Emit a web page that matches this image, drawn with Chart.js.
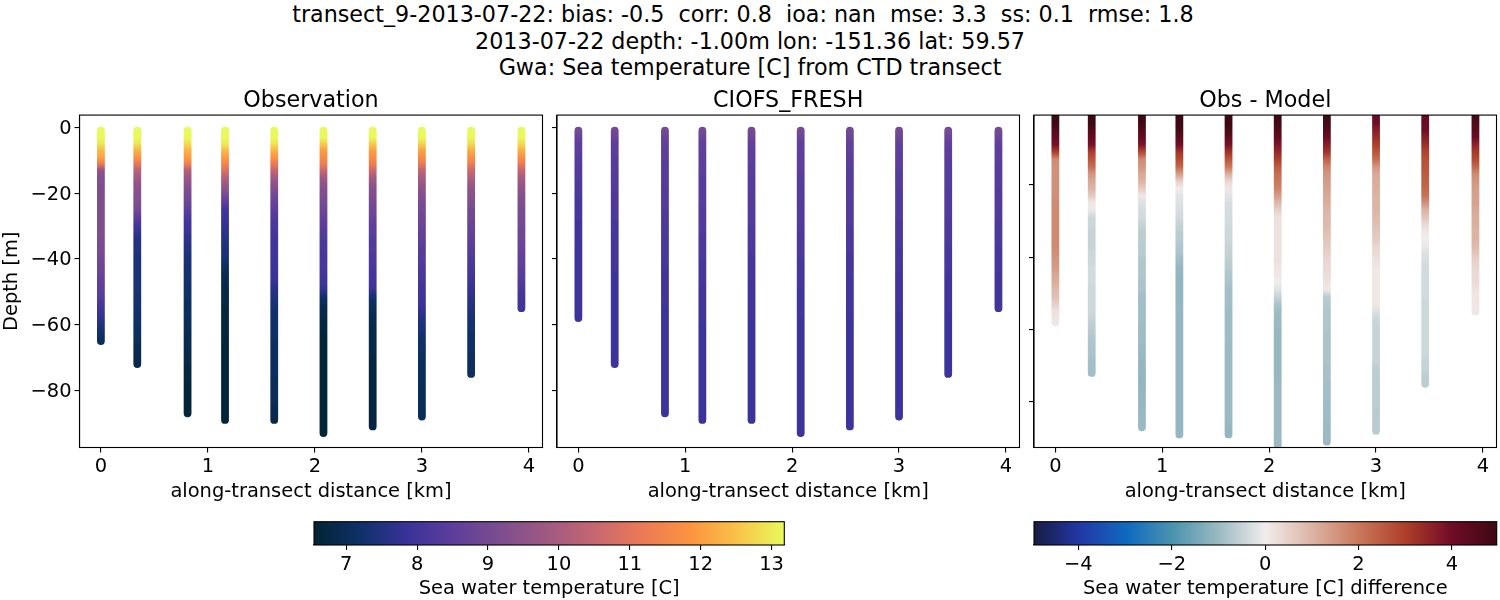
<!DOCTYPE html>
<html lang="en">
<head>
  <meta charset="UTF-8" />
  <title>transect_9-2013-07-22</title>
  <script src="https://cdn.jsdelivr.net/npm/chart.js"></script>
  <style>
    body { margin: 0; background: #fff; font-family: 'DejaVu Sans', sans-serif; color: #000; }
    #page { position: relative; width: 1500px; height: 600px; overflow: hidden; }
    canvas { position: absolute; }
    .sup { position: absolute; left: 0; width: 1500px; text-align: center; font-size: 22.24px; line-height: 26px; white-space: pre; }
  </style>
</head>
<body>
  <div id="page">
    <div class="sup" style="top:1px">transect_9-2013-07-22: bias: -0.5  corr: 0.8  ioa: nan  mse: 3.3  ss: 0.1  rmse: 1.8  </div>
    <div class="sup" style="top:28px">2013-07-22 depth: -1.00m lon: -151.36 lat: 59.57</div>
    <div class="sup" style="top:54px">Gwa: Sea temperature [C] from CTD transect</div>
    <canvas id="obs" width="546" height="427" style="left:0;top:80px"></canvas>
    <canvas id="model" width="478" height="427" style="left:545px;top:80px"></canvas>
    <canvas id="diff" width="478" height="427" style="left:1022px;top:80px"></canvas>
    <canvas id="barTemp" width="520" height="92" style="left:290px;top:510px"></canvas>
    <canvas id="barDiff" width="500" height="92" style="left:1000px;top:510px"></canvas>
  </div>

  <script>
    // along-transect position of each CTD cast [km]
    const stationKm = [0, 0.34, 0.81, 1.16, 1.62, 2.08, 2.54, 3.0, 3.46, 3.93];
    const obsBottom = [65, 72, 87, 89, 89, 93, 91, 88, 75, 55];
    const modelBottom = [58, 72, 87, 89, 89, 93, 91, 88, 75, 55];

    // values read every 2 m from -1 m down, last one sits at the cast bottom
    const obsProfiles = [
      [13.2,13.2,12.9,12.4,12.1, 11.3,9.6,9.3,9.2,9.2, 9.2,9.2,9.2,9.2,9.2, 9.2,9.2,9.1,9.1,9.0, 8.9,8.8,8.7,8.6,8.5, 8.4,8.2,8.0,7.8,7.6, 7.4,7.2,7.0],
      [13.2,13.2,12.9,12.3,11.9, 11.1,10.3,9.9,9.6,9.4, 9.3,9.2,9.0,8.6,8.1, 7.9,7.6,7.5,7.5,7.4, 7.4,7.4,7.4,7.4,7.4, 7.3,7.3,7.3,7.2,7.2, 7.1,7.1,7.0,6.9,6.9,6.8],
      [13.2,13.2,12.8,12.3,12.0, 11.4,10.2,9.8,9.5,9.2, 9.0,8.8,8.5,8.2,8.0, 7.9,7.7,7.6,7.5,7.4, 7.4,7.3,7.3,7.3,7.2, 7.2,7.1,7.1,7.1,7.0, 7.0,6.9,6.9,6.9,6.8, 6.8,6.7,6.7,6.7,6.6, 6.6,6.6,6.6,6.6],
      [13.2,13.2,13.0,12.4,12.0, 11.5,10.9,10.3,9.8,9.4, 8.9,8.5,8.0,7.9,7.8, 7.7,7.6,7.5,7.4,7.4, 7.2,7.0,6.9,6.9,6.8, 6.8,6.8,6.7,6.7,6.7, 6.7,6.7,6.7,6.6,6.6, 6.6,6.6,6.6,6.6,6.6, 6.6,6.6,6.6,6.6,6.6],
      [13.2,13.2,12.9,12.3,11.9, 11.2,10.5,9.9,9.5,9.2, 8.9,8.7,8.5,8.3,8.2, 8.1,8.0,8.0,8.0,8.0, 8.0,7.9,7.9,7.8,7.6, 7.5,7.4,7.3,7.2,7.2, 7.2,7.2,7.1,7.1,7.1, 7.1,7.1,7.1,7.0,7.0, 7.0,7.0,6.9,6.9,6.8],
      [13.2,13.2,12.6,12.0,11.7, 11.3,10.6,9.9,9.6,9.3, 9.2,9.0,8.9,8.7,8.5, 8.4,8.3,8.2,8.2,8.1, 8.1,8.1,8.0,8.0,7.8, 7.3,7.0,6.9,6.8,6.7, 6.7,6.6,6.6,6.6,6.6, 6.6,6.6,6.6,6.6,6.6,6.6,6.6,6.6,6.6,6.6,6.6,6.6],
      [13.2,13.2,12.6,12.0,11.7, 11.3,10.6,10.0,9.6,9.3, 9.2,9.0,8.9,8.8,8.6, 8.5,8.4,8.3,8.3,8.2, 8.2,8.1,8.1,8.0,7.9, 7.4,7.1,7.0,6.9,6.9, 6.8,6.8,6.8,6.8,6.8, 6.7,6.7,6.7,6.7,6.7,6.7,6.7,6.7,6.7,6.7,6.7],
      [13.2,13.2,12.7,12.1,11.7, 11.2,10.4,10.0,9.7,9.4, 9.3,9.1,9.0,8.9,8.8, 8.7,8.6,8.5,8.4,8.4, 8.3,8.2,8.2,8.1,8.0, 8.0,7.9,7.8,7.6,7.5, 7.4,7.3,7.2,7.2,7.1, 7.1,7.1,7.1,7.1,7.0,7.0,7.0,7.0,7.0],
      [13.2,13.2,12.8,12.2,11.8, 11.3,10.6,10.2,9.8,9.5, 9.4,9.2,9.0,8.9,8.8, 8.7,8.6,8.5,8.4,8.3, 8.2,8.1,8.0,7.9,7.8, 7.7,7.6,7.5,7.4,7.3, 7.3,7.2,7.2,7.2,7.1, 7.1,7.1,7.1],
      [13.2,13.2,12.8,12.2,11.8, 11.2,10.5,10.0,9.7,9.5, 9.3,9.2,9.1,9.0,9.0, 8.9,8.9,8.8,8.7,8.6, 8.6,8.5,8.4,8.3,8.2, 8.1,8.0,8.0]
    ];
    const modelProfiles = [
      [9.0,8.7,8.5,8.5,8.4, 8.4,8.3,8.3,8.2,8.2, 8.2,8.1,8.1,8.1,8.0, 8.0,8.0,8.0,7.9,7.9, 7.9,7.9,7.9,7.9,7.9, 7.9,7.9,7.9,7.9],
      [9.0,8.7,8.5,8.5,8.4, 8.4,8.4,8.3,8.3,8.3, 8.2,8.2,8.2,8.2,8.1, 8.1,8.1,8.0,8.0,8.0, 8.0,8.0,7.9,7.9,7.9, 7.9,7.9,7.9,7.9,7.9, 7.9,7.9,7.9,7.9,7.9,7.9],
      [9.0,8.7,8.6,8.5,8.5, 8.4,8.4,8.4,8.4,8.3, 8.3,8.3,8.3,8.2,8.2, 8.2,8.2,8.1,8.1,8.1, 8.1,8.0,8.0,8.0,8.0, 8.0,8.0,7.9,7.9,7.9, 7.9,7.9,7.9,7.9,7.9, 7.9,7.9,7.9,7.9,7.9, 7.9,7.9,7.9,7.9],
      [9.0,8.8,8.6,8.6,8.5, 8.5,8.5,8.4,8.4,8.4, 8.4,8.4,8.3,8.3,8.3, 8.3,8.2,8.2,8.2,8.2, 8.1,8.1,8.1,8.1,8.0, 8.0,8.0,8.0,8.0,8.0, 7.9,7.9,7.9,7.9,7.9, 7.9,7.9,7.9,7.9,7.9, 7.9,7.9,7.9,7.9,7.9],
      [9.0,8.8,8.6,8.5,8.5, 8.5,8.4,8.4,8.4,8.4, 8.3,8.3,8.3,8.3,8.3, 8.2,8.2,8.2,8.2,8.1, 8.1,8.1,8.1,8.0,8.0, 8.0,8.0,8.0,8.0,7.9, 7.9,7.9,7.9,7.9,7.9, 7.9,7.9,7.9,7.9,7.9, 7.9,7.9,7.9,7.9,7.9],
      [9.0,8.8,8.6,8.6,8.5, 8.5,8.5,8.4,8.4,8.4, 8.4,8.3,8.3,8.3,8.3, 8.3,8.2,8.2,8.2,8.2, 8.1,8.1,8.1,8.1,8.0, 8.0,8.0,8.0,8.0,7.9, 7.9,7.9,7.9,7.9,7.9, 7.9,7.9,7.9,7.9,7.9, 7.9,7.9,7.9,7.9,7.9,7.9,7.9],
      [9.0,8.8,8.6,8.6,8.5, 8.5,8.4,8.4,8.4,8.4, 8.4,8.3,8.3,8.3,8.3, 8.2,8.2,8.2,8.2,8.1, 8.1,8.1,8.1,8.0,8.0, 8.0,8.0,8.0,8.0,7.9, 7.9,7.9,7.9,7.9,7.9, 7.9,7.9,7.9,7.9,7.9, 7.9,7.9,7.9,7.9,7.9,7.9],
      [9.0,8.8,8.6,8.5,8.5, 8.5,8.4,8.4,8.4,8.3, 8.3,8.3,8.3,8.3,8.2, 8.2,8.2,8.2,8.1,8.1, 8.1,8.1,8.0,8.0,8.0, 8.0,8.0,8.0,7.9,7.9, 7.9,7.9,7.9,7.9,7.9, 7.9,7.9,7.9,7.9,7.9, 7.9,7.9,7.9,7.9],
      [9.0,8.8,8.6,8.5,8.5, 8.4,8.4,8.4,8.4,8.3, 8.3,8.3,8.3,8.3,8.2, 8.2,8.2,8.2,8.1,8.1, 8.1,8.1,8.0,8.0,8.0, 8.0,8.0,8.0,7.9,7.9, 7.9,7.9,7.9,7.9,7.9, 7.9,7.9,7.9],
      [9.0,8.8,8.6,8.5,8.5, 8.4,8.4,8.4,8.4,8.3, 8.3,8.3,8.3,8.3,8.2, 8.2,8.2,8.2,8.1,8.1, 8.1,8.1,8.0,8.0,8.0, 8.0,8.0,8.0]
    ];
    const diffProfiles = [
      [5.0,4.9,4.5,4.2,3.9, 3.0,1.7,1.6,1.6,1.6, 1.6,1.6,1.7,1.7,1.7, 1.7,1.7,1.7,1.7,1.6, 1.5,1.4,1.2,1.1,0.9, 0.8,0.5,0.2,0.1],
      [5.0,4.9,4.5,4.2,3.9, 3.0,2.6,2.2,1.5,1.2, 1.0,0.6,0.1,-0.08,-0.42, -0.42,-0.5,-0.5,-0.5,-0.42, -0.42,-0.36,-0.36,-0.36,-0.42, -0.42,-0.42,-0.42,-0.5,-0.6, -0.65,-0.75,-0.8,-0.8,-0.9,-0.9],
      [5.0,4.9,4.5,4.2,3.8, 2.8,1.7,1.5,1.2,1.0, 0.6,0.1,-0.22,-0.3,-0.36, -0.5,-0.6,-0.6,-0.65,-0.65, -0.75,-0.75,-0.75,-0.8,-0.8, -0.9,-0.9,-0.9,-0.9,-0.95, -0.95,-0.95,-1.0,-1.0,-1.05, -1.05,-1.1,-1.1,-1.05,-1.05, -1.05,-1.0,-1.0,-1.0],
      [5.0,5.0,4.8,4.4,4.0, 3.2,2.8,2.3,1.4,0.5, 0.0,-0.15,-0.22,-0.3,-0.36, -0.5,-0.6,-0.65,-0.75,-0.8, -0.95,-1.05,-1.1,-1.1,-1.1, -1.1,-1.1,-1.05,-1.05,-1.05, -1.05,-1.05,-1.05,-1.05,-1.05, -1.05,-1.05,-1.05,-1.05,-1.05, -1.05,-1.05,-1.05,-1.05,-1.05],
      [5.0,5.0,4.7,4.3,3.9, 3.2,2.6,2.0,1.1,0.4, 0.1,-0.15,-0.3,-0.3,-0.36, -0.36,-0.42,-0.42,-0.5,-0.5, -0.6,-0.65,-0.75,-0.8,-0.9, -0.9,-0.9,-0.95,-0.95,-0.95, -0.95,-0.95,-1.0,-1.0,-1.0, -1.0,-1.0,-1.0,-1.0,-1.0, -1.0,-1.0,-1.0,-1.05,-1.05],
      [5.0,4.8,4.5,4.2,3.8, 3.4,3.0,2.5,2.2,2.0, 1.8,1.4,0.9,0.5,0.2, 0.2,0.2,0.2,0.2,0.2, 0.2,0.1,0.1,0.0,-0.2, -0.5,-0.8,-0.95,-1.0,-1.0, -1.05,-1.05,-1.05,-1.05,-1.05, -1.05,-1.05,-1.0,-1.0,-1.0,-1.0,-1.0,-1.0,-1.0,-1.0,-1.0,-1.0],
      [5.0,4.8,4.5,4.1,3.6, 3.2,2.4,1.8,1.5,1.4, 1.3,1.2,1.1,1.0,0.9, 0.9,0.8,0.7,0.6,0.5, 0.4,0.3,0.3,0.2,0.1, -0.65,-0.7,-0.75,-0.75,-0.75, -0.8,-0.8,-0.8,-0.8,-0.8, -0.85,-0.85,-0.9,-0.9,-0.9,-0.95,-0.95,-0.95,-1.0,-1.0,-1.0],
      [4.1,4.0,3.6,3.3,3.0, 2.6,2.2,1.5,1.2,1.1, 1.1,1.0,1.0,1.0,0.9, 0.8,0.7,0.6,0.4,0.3, 0.2,0.1,0.1,0.1,0.1, 0.1,0.1,-0.22,-0.42,-0.5, -0.5,-0.5,-0.5,-0.5,-0.5, -0.6,-0.6,-0.6,-0.6,-0.6,-0.6,-0.65,-0.65,-0.65],
      [4.2,4.1,4.0,3.6,3.3, 2.9,2.7,2.6,2.5,2.4, 2.3,2.1,1.6,1.0,0.7, 0.3,0.1,0.0,-0.08,-0.22, -0.3,-0.36,-0.36,-0.36,-0.36, -0.36,-0.42,-0.42,-0.42,-0.42, -0.42,-0.42,-0.42,-0.42,-0.5, -0.5,-0.6,-0.6],
      [4.8,4.6,4.4,4.0,3.5, 3.1,2.8,2.3,1.7,1.5, 1.4,1.3,1.3,1.2,1.1, 1.1,1.0,1.0,0.9,0.7, 0.5,0.4,0.3,0.3,0.2, 0.1,0.1,0.1]
    ];

    const xTicks = [0, 1, 2, 3, 4];
    const yTicks = [0, -20, -40, -60, -80];
    const yTicksDiff = [-20, -40, -60, -80];
    const tempTicks = [7, 8, 9, 10, 11, 12, 13];
    const diffTicks = [-4, -2, 0, 2, 4];

    // evenly spaced colormap stops
    const thermalStops = ['#032333', '#0f3169', '#3a339a', '#5f3f9b', '#7e4e8f', '#a15a82', '#c7676f', '#ec7a56', '#fb933f', '#f9c24a', '#e8fa5b'];
    const balanceStops = ['#181c43', '#2338a5', '#0f6abf', '#4b93ae', '#9bbac2', '#f1ecec', '#dcb4a5', '#c9795c', '#b0402a', '#720d27', '#3c0912'];

    const TEMP_RANGE = [6.545, 13.18];
    const DIFF_RANGE = [-4.95, 4.96];
    const FONT = 'DejaVu Sans';
    const LABEL_SIZE = 19.44;

    function cmapColor(stops, t) {
      t = Math.min(1, Math.max(0, t));
      const pos = t * (stops.length - 1);
      const i = Math.min(stops.length - 2, Math.floor(pos));
      const f = pos - i;
      const a = parseInt(stops[i].slice(1), 16);
      const b = parseInt(stops[i + 1].slice(1), 16);
      const ch = s => Math.round(((a >> s) & 255) * (1 - f) + ((b >> s) & 255) * f);
      return `rgb(${ch(16)},${ch(8)},${ch(0)})`;
    }

    // one thick line per cast, stroked with a gradient taken from its readings
    function buildDatasets(profiles, bottoms, stops, range) {
      const color = v => cmapColor(stops, (v - range[0]) / (range[1] - range[0]));
      return profiles.map((vals, s) => {
        const points = vals.map((v, i) => ({
          x: stationKm[s],
          y: i === vals.length - 1 ? -bottoms[s] : -(1 + 2 * i)
        }));
        return {
          data: points,
          showLine: true,
          borderWidth: 7.8,
          borderCapStyle: 'round',
          pointRadius: 0,
          borderColor: c => {
            const sy = c.chart.scales.y;
            if (!c.chart.chartArea || !sy) return color(vals[0]);
            const top = sy.getPixelForValue(points[0].y);
            const bottom = sy.getPixelForValue(points[points.length - 1].y);
            const g = c.chart.ctx.createLinearGradient(0, top, 0, bottom);
            points.forEach((p, i) => g.addColorStop((sy.getPixelForValue(p.y) - top) / (bottom - top), color(vals[i])));
            return g;
          }
        };
      });
    }

    const minus = v => String(v).replace('-', '\u2212');

    // top and right spines
    const framePlugin = {
      id: 'frame',
      afterDraw(chart) {
        const a = chart.chartArea, c = chart.ctx;
        c.save();
        c.strokeStyle = '#000';
        c.lineWidth = 1.1;
        c.strokeRect(a.left, a.top, a.right - a.left, a.bottom - a.top);
        c.restore();
      }
    };

    function axisBase(tickList) {
      return {
        type: 'linear',
        grid: { drawOnChartArea: false, drawTicks: true, tickLength: 5, color: '#000', lineWidth: 1.1 },
        border: { color: '#000', width: 1.1 },
        ticks: { color: '#000', font: { family: FONT, size: LABEL_SIZE }, padding: 3, maxRotation: 0, autoSkip: false, callback: v => minus(v) },
        afterBuildTicks: s => { s.ticks = tickList.map(v => ({ value: v })); }
      };
    }

    function panel(id, cfg) {
      const x = axisBase(xTicks);
      x.min = -0.2;
      x.max = 4.127;
      x.title = { display: true, text: 'along-transect distance [km]', color: '#000', font: { family: FONT, size: LABEL_SIZE }, padding: { top: 0, bottom: 3 } };
      x.afterFit = s => { s.height = 59.5; };

      const y = axisBase(cfg.yTicks);
      y.min = cfg.yRange[0];
      y.max = cfg.yRange[1];
      y.ticks.labelOffset = 1.5;
      y.afterFit = s => { s.width = cfg.yWidth; };
      if (cfg.yTitle) {
        y.title = { display: true, text: cfg.yTitle, color: '#000', font: { family: FONT, size: LABEL_SIZE }, padding: 0 };
      } else {
        y.ticks.display = false;
      }

      new Chart(document.getElementById(id), {
        type: 'scatter',
        data: { datasets: buildDatasets(cfg.profiles, cfg.bottoms, cfg.stops, cfg.range) },
        options: {
          responsive: false,
          animation: false,
          layout: { padding: { left: 0, right: 3.5, top: 0, bottom: 0 } },
          plugins: {
            legend: { display: false },
            tooltip: { enabled: false },
            title: { display: true, fullSize: false, text: cfg.title, color: '#000', font: { family: FONT, size: 22.24, weight: 'normal' }, padding: { top: 8, bottom: 0.4 } }
          },
          scales: { x: x, y: y }
        },
        plugins: [framePlugin]
      });
    }

    function colorbar(id, cfg) {
      const x = axisBase(cfg.ticks);
      x.min = cfg.range[0];
      x.max = cfg.range[1];
      x.title = { display: true, text: cfg.label, color: '#000', font: { family: FONT, size: LABEL_SIZE }, padding: { top: 0, bottom: 1 } };
      x.afterFit = s => { s.height = 57; };

      new Chart(document.getElementById(id), {
        type: 'bar',
        data: {
          labels: [''],
          datasets: [{
            data: [cfg.range],
            barPercentage: 1,
            categoryPercentage: 1,
            backgroundColor: c => {
              const sx = c.chart.scales.x;
              if (!c.chart.chartArea || !sx) return cfg.stops[0];
              const g = c.chart.ctx.createLinearGradient(sx.getPixelForValue(cfg.range[0]), 0, sx.getPixelForValue(cfg.range[1]), 0);
              cfg.stops.forEach((col, i) => g.addColorStop(i / (cfg.stops.length - 1), col));
              return g;
            }
          }]
        },
        options: {
          indexAxis: 'y',
          responsive: false,
          animation: false,
          layout: { padding: cfg.padding },
          plugins: { legend: { display: false }, tooltip: { enabled: false } },
          scales: { x: x, y: { type: 'category', display: false } }
        },
        plugins: [framePlugin]
      });
    }

    panel('obs', { title: 'Observation', yTitle: 'Depth [m]', yWidth: 79.5, yRange: [-97.4, 3.75], yTicks: yTicks, profiles: obsProfiles, bottoms: obsBottom, stops: thermalStops, range: TEMP_RANGE });
    panel('model', { title: 'CIOFS_FRESH', yWidth: 12, yRange: [-97.4, 3.75], yTicks: yTicks, profiles: modelProfiles, bottoms: modelBottom, stops: thermalStops, range: TEMP_RANGE });
    panel('diff', { title: 'Obs - Model', yWidth: 12, yRange: [-92.6, -0.75], yTicks: yTicksDiff, profiles: diffProfiles, bottoms: modelBottom, stops: balanceStops, range: DIFF_RANGE });

    colorbar('barTemp', { label: 'Sea water temperature [C]', ticks: tempTicks, range: TEMP_RANGE, stops: thermalStops, padding: { left: 24, right: 25.7, top: 11.7, bottom: 0 } });
    colorbar('barDiff', { label: 'Sea water temperature [C] difference', ticks: diffTicks, range: DIFF_RANGE, stops: balanceStops, padding: { left: 34, right: 3.3, top: 11.7, bottom: 0 } });
  </script>
</body>
</html>
